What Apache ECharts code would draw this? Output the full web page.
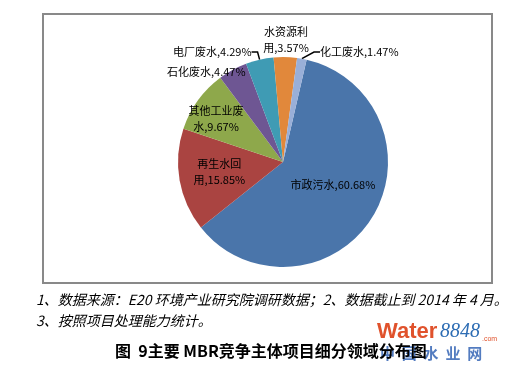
<!DOCTYPE html>
<html><head><meta charset="utf-8">
<script src="https://cdn.jsdelivr.net/npm/echarts@6/dist/echarts.min.js"></script>
<style>html,body{margin:0;padding:0;background:#fff}#c{width:505px;height:373px}</style>
</head><body><div id="c"></div>
<script>
const names = ['市政污水','再生水回用','其他工业废水','石化废水','电厂废水','水资源利用','化工废水'];
const labelNames = ['市政污水','再生水回\n用','其他工业废\n水','石化废水','电厂废水','水资源利\n用','化工废水'];
const values = [60.68, 15.85, 9.67, 4.47, 4.29, 3.57, 1.47];
const colors = ['#4A75AA','#AA4441','#8EA84B','#6E5693','#3F9BB4','#E1883B','#99AFD8'];
const notes = ['1、数据来源：E20 环境产业研究院调研数据；2、数据截止到 2014 年 4 月。','3、按照项目处理能力统计。'];
const title = '图  9主要 MBR竞争主体项目细分领域分布图';

const chart = echarts.init(document.getElementById('c'));
const font = '"Noto Sans CJK SC", sans-serif';
const outside = [false,false,false,true,true,true,true];
const showLine = [false,false,false,false,true,false,true];
const data = names.map((n,i)=>({
  name:n, value:values[i],
  itemStyle:{color:colors[i]},
  label:{position: outside[i]?'outside':'inside'},
  labelLine:{show:showLine[i]}
}));
const layouts = [
  {dx:3,dy:-7},
  {dx:-9,dy:0},
  {dx:-22,dy:-11},
  {x:167,y:72,align:'left',verticalAlign:'middle'},
  {x:173,y:52,align:'left',verticalAlign:'middle'},
  {x:286,y:40,align:'center',verticalAlign:'middle'},
  {x:320,y:52,align:'left',verticalAlign:'middle'}
];
chart.setOption({
  animation:false,
  graphic:[
    {type:'rect',shape:{x:43,y:14,width:449,height:269},style:{fill:'none',stroke:'#898989',lineWidth:2}},
    {type:'text',x:36,y:293,style:{text:notes[0],font:'italic 14px '+font,fill:'#000'}},
    {type:'text',x:36,y:314,style:{text:notes[1],font:'italic 14px '+font,fill:'#000'}},
    {type:'text',x:377,y:321,z:1,style:{text:'Water',font:'bold 22px "Liberation Sans", sans-serif',fill:'#E0522C'}},
    {type:'text',x:440,y:322,z:1,style:{text:'8848',font:'italic 20px "Liberation Serif", serif',fill:'#2E6DB4'}},
    {type:'text',x:482,y:336,z:1,style:{text:'.com',font:'7px "Liberation Sans", sans-serif',fill:'#E0522C'}},
    {type:'text',x:380,y:346,z:1,style:{text:'中  国  水  业  网',font:'bold 15px '+font,fill:'#3565B5',opacity:0.85}},
    {type:'text',x:115,y:343,z:5,style:{text:title,font:'bold 16px '+font,fill:'#000'}}
  ],
  series:[{
    type:'pie',
    center:[283,162],
    radius:105,
    startAngle:77,
    clockwise:true,
    avoidLabelOverlap:false,
    data:data,
    itemStyle:{borderWidth:0},
    label:{
      formatter:p=>labelNames[p.dataIndex]+','+values[p.dataIndex].toFixed(2)+'%',
      fontFamily:font,fontSize:11,color:'#000',lineHeight:16,align:'center'
    },
    labelLine:{length:4,length2:6,lineStyle:{color:'#000',width:1.5}},
    labelLayout:function(p){ return layouts[p.dataIndex]; }
  }]
});
</script></body></html>
